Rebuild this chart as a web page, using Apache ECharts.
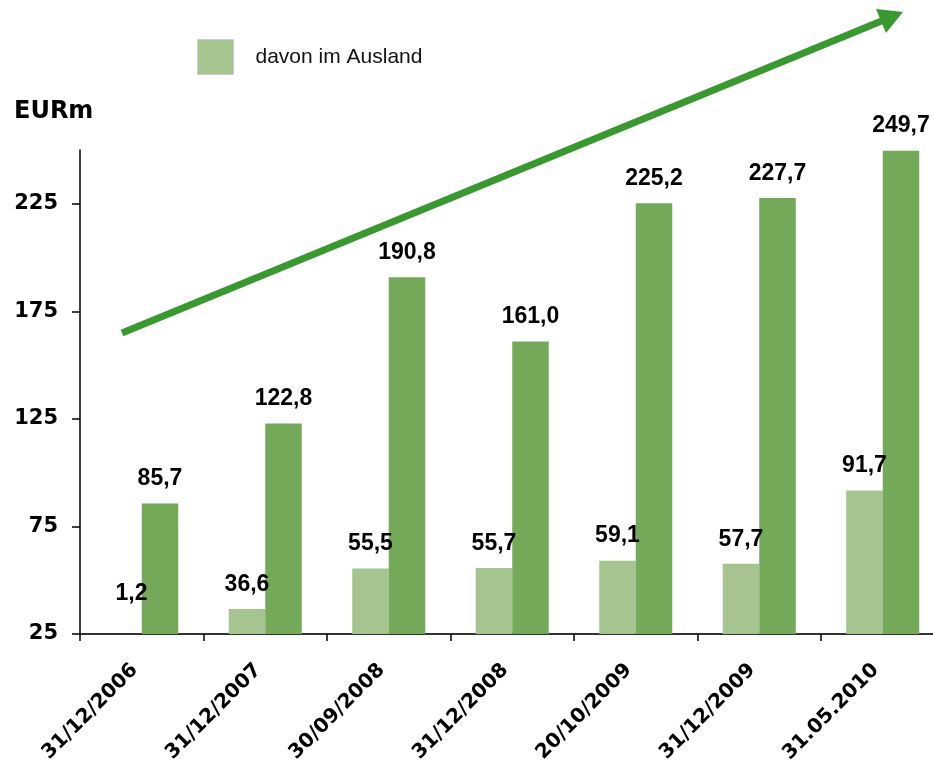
<!DOCTYPE html>
<html>
<head>
<meta charset="utf-8">
<script src="https://cdn.jsdelivr.net/npm/echarts@6/dist/echarts.min.js"></script>
<style>html,body{margin:0;padding:0;background:#fff;}#c{width:933px;height:763px;}</style>
</head>
<body>
<div id="c"></div>
<script>
var categories = ['31/12/2006', '31/12/2007', '30/09/2008', '31/12/2008', '20/10/2009', '31/12/2009', '31.05.2010'];
var auslandValues = [1.2, 36.6, 55.5, 55.7, 59.1, 57.7, 91.7];
var totalValues = [85.7, 122.8, 190.8, 161.0, 225.2, 227.7, 249.7];
var yTicks = [25, 75, 125, 175, 225];
var yMin = 25, yMax = 250;

function fmt(v) { return Number(v).toFixed(1).replace('.', ','); }

var axisFont = 'DejaVu Sans';
var labelFont = 'Liberation Sans';
var chart = echarts.init(document.getElementById('c'), null, { renderer: 'canvas' });

// points below the axis minimum cannot be drawn as bars; show their label at the baseline
var belowMin = [];
auslandValues.forEach(function (v, i) {
  if (v < yMin) belowMin.push({ coord: [categories[i], yMin], value: v });
});

var dataLabel = {
  show: true, position: 'top', distance: 13,
  fontFamily: labelFont, fontWeight: 'bold', fontSize: 23, color: '#000',
  formatter: function (p) { return fmt(p.value); }
};

chart.setOption({
  animation: false,
  backgroundColor: '#ffffff',
  title: {
    text: 'EURm', left: 14, top: 100, padding: 0,
    textStyle: { fontFamily: axisFont, fontWeight: 'bold', fontSize: 24, color: '#000' }
  },
  legend: {
    data: ['davon im Ausland'],
    left: 197, top: 39, padding: 0,
    icon: 'rect', itemWidth: 36, itemHeight: 35,
    itemStyle: { borderColor: '#cccccc', borderWidth: 1 },
    textStyle: { fontFamily: 'Liberation Sans', fontSize: 21, color: '#111', padding: [0, 0, 0, 17] }
  },
  grid: { left: 80, top: 150, bottom: 129, width: 864.5, containLabel: false, outerBoundsMode: 'none' },
  xAxis: {
    type: 'category',
    data: categories,
    axisLine: { lineStyle: { color: '#333', width: 2 } },
    axisTick: { show: true, length: 7, lineStyle: { color: '#000', width: 1.5 } },
    axisLabel: {
      interval: 0, rotate: 45, margin: 26, padding: [0, 10, 0, 0],
      fontFamily: axisFont, fontWeight: 'bold', fontSize: 20, color: '#000'
    }
  },
  yAxis: {
    type: 'value',
    min: yMin, max: yMax,
    splitLine: { show: false },
    axisLine: { show: true, lineStyle: { color: '#000', width: 1.5 } },
    axisTick: { show: true, length: 8, customValues: yTicks, lineStyle: { color: '#000', width: 1.5 } },
    axisLabel: {
      customValues: yTicks, margin: 22,
      fontFamily: axisFont, fontWeight: 'bold', fontSize: 21, color: '#000'
    }
  },
  series: [
    {
      name: 'davon im Ausland', type: 'bar', data: auslandValues,
      barWidth: 36.5, barGap: '0%',
      itemStyle: { color: '#a5c48f' },
      label: dataLabel,
      markPoint: {
        symbol: 'circle', symbolSize: 0, silent: true,
        label: {
          show: true, position: 'inside', offset: [8, -40],
          fontFamily: labelFont, fontWeight: 'bold', fontSize: 23, color: '#000',
          formatter: function (p) { return fmt(p.value); }
        },
        data: belowMin
      }
    },
    {
      name: 'Gesamt', type: 'bar', data: totalValues,
      barWidth: 36.5, barGap: '0%',
      itemStyle: { color: '#74a95a' },
      label: dataLabel
    }
  ],
  graphic: [
    {
      type: 'line', silent: true,
      shape: { x1: 122, y1: 333, x2: 884, y2: 20 },
      style: { stroke: '#3a9830', lineWidth: 7 }
    },
    {
      type: 'polygon', silent: true,
      shape: { points: [[903, 12], [876, 9], [886, 33]] },
      style: { fill: '#3a9830' }
    }
  ]
});
</script>
</body>
</html>
